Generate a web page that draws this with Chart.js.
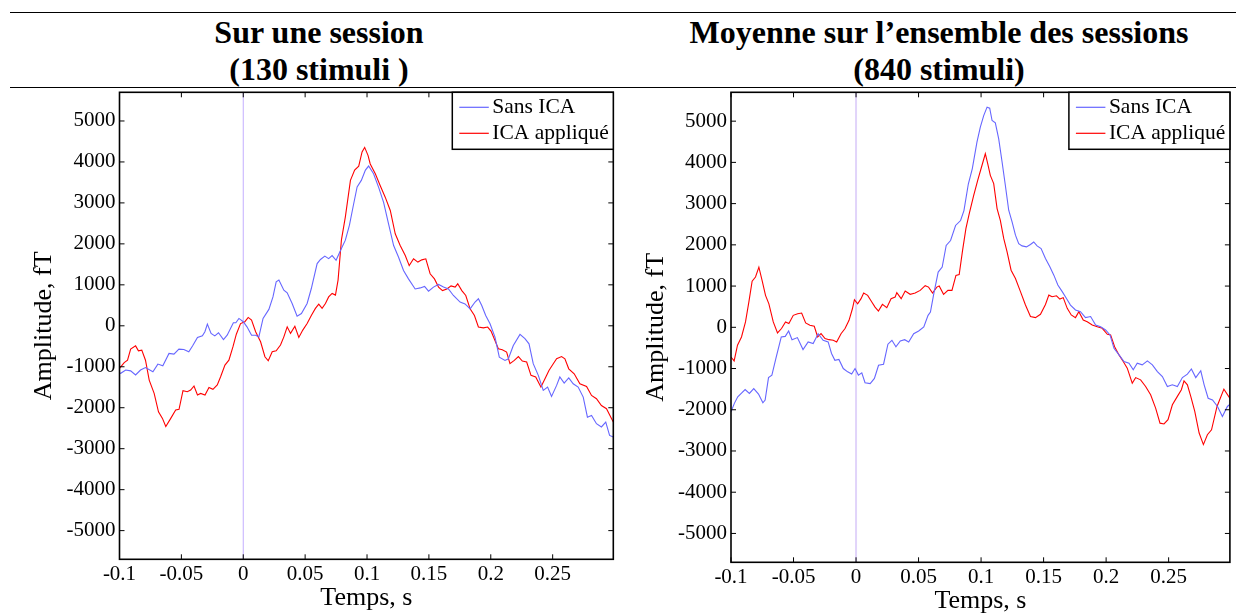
<!DOCTYPE html>
<html>
<head>
<meta charset="utf-8">
<script src="https://cdn.jsdelivr.net/npm/chart.js@4.4.0/dist/chart.umd.min.js"></script>
<style>
  body { margin: 0; background: #fff; }
  #page { position: relative; width: 1236px; height: 615px; overflow: hidden;
          font-family: "Liberation Serif", "Times New Roman", serif; }
  .rule { position: absolute; left: 10px; width: 1226px; height: 1.4px; background: #000; }
  .title { position: absolute; top: 14px; width: 618px; text-align: center;
           font-weight: bold; font-size: 32px; line-height: 37px; color: #000; }
  canvas { position: absolute; top: 0; }
</style>
</head>
<body>
<div id="page">
  <div class="rule" style="top:11.6px"></div>
  <div class="rule" style="top:86.6px"></div>
  <div class="title" style="left:10px">Sur une session<br>(130 stimuli )</div>
  <div class="title" style="left:630px">Moyenne sur l’ensemble des sessions<br>(840 stimuli)</div>
  <canvas id="left" width="618" height="615" style="left:0"></canvas>
  <canvas id="right" width="618" height="615" style="left:618px"></canvas>
</div>
<script>
// [time (s), amplitude (fT)]
const sessionSansICA = [
  [-0.1,-1150],[-0.099,-1160],[-0.095,-1080],[-0.091,-1100],[-0.087,-1200],[-0.083,-1080],[-0.079,-1020],
  [-0.073,-1120],[-0.069,-935],[-0.065,-975],[-0.060,-675],[-0.056,-690],[-0.052,-570],[-0.048,-580],
  [-0.044,-635],[-0.041,-495],[-0.037,-285],[-0.033,-245],[-0.031,-145],[-0.029,40],[-0.026,-185],
  [-0.023,-245],[-0.020,-170],[-0.016,-335],[-0.013,-230],[-0.008,75],[-0.006,75],[-0.0035,180],[0,100],
  [0.003,-25],[0.0067,-230],[0.010,-230],[0.0126,-270],[0.016,180],[0.0207,400],[0.024,705],[0.0266,1075],
  [0.0288,1115],[0.0328,870],[0.0355,805],[0.0395,545],[0.0435,235],[0.047,300],[0.0516,545],[0.055,910],
  [0.0597,1520],[0.0624,1620],[0.0659,1700],[0.069,1640],[0.0718,1715],[0.075,1600],[0.0793,1885],
  [0.0825,2090],[0.0858,2455],[0.0887,2900],[0.092,3390],[0.0954,3550],[0.0987,3800],[0.1013,3900],
  [0.1053,3710],[0.1094,3380],[0.1134,3015],[0.1174,2490],[0.1215,1960],[0.1255,1675],[0.1295,1350],
  [0.1335,1145],[0.1389,900],[0.143,925],[0.1465,960],[0.1497,845],[0.1537,945],[0.1578,1010],[0.1618,945],
  [0.1658,900],[0.1698,740],[0.1752,580],[0.1792,535],[0.1833,415],[0.1873,580],[0.19,660],[0.1927,495],
  [0.1959,250],[0.1994,50],[0.2034,-275],[0.2069,-765],[0.2115,-845],[0.2142,-805],[0.2182,-480],
  [0.2236,-210],[0.2276,-315],[0.2309,-440],[0.2343,-925],[0.2384,-1210],[0.2424,-1575],[0.2459,-1495],
  [0.2491,-1725],[0.2532,-1455],[0.2558,-1250],[0.2593,-1400],[0.263,-1270],[0.2666,-1415],[0.2706,-1495],
  [0.2747,-1740],[0.2781,-2230],[0.2814,-2190],[0.2854,-2390],[0.2894,-2470],[0.2929,-2350],[0.296,-2675],
  [0.299,-2715]
];
const sessionICA = [
  [-0.1,-1040],[-0.0962,-900],[-0.0935,-840],[-0.091,-570],[-0.087,-490],[-0.0847,-610],[-0.082,-595],
  [-0.079,-840],[-0.076,-1325],[-0.072,-1650],[-0.0685,-2100],[-0.0653,-2260],[-0.0626,-2460],[-0.0586,-2260],
  [-0.0546,-2055],[-0.0519,-2040],[-0.0487,-1585],[-0.0452,-1610],[-0.0425,-1570],[-0.0398,-1470],
  [-0.037,-1690],[-0.0344,-1650],[-0.0309,-1690],[-0.0277,-1505],[-0.0245,-1550],[-0.021,-1445],
  [-0.0183,-1245],[-0.0148,-960],[-0.0116,-840],[-0.0083,-510],[-0.0056,-205],[-0.0022,55],[0.0013,100],
  [0.004,205],[0.0067,140],[0.01,-145],[0.014,-390],[0.0175,-755],[0.0202,-855],[0.0234,-635],[0.0266,-610],
  [0.0301,-470],[0.0328,-270],[0.0355,-25],[0.0382,-185],[0.0417,-10],[0.0449,-285],[0.0481,-105],
  [0.0516,55],[0.0551,260],[0.0583,425],[0.061,530],[0.0637,425],[0.0664,545],[0.069,705],[0.0718,790],
  [0.0745,750],[0.0766,1115],[0.0793,2090],[0.0825,2660],[0.0866,3550],[0.09,3800],[0.0933,3895],
  [0.096,4245],[0.0981,4355],[0.1008,4160],[0.1026,3950],[0.1067,3710],[0.1107,3420],[0.1147,3140],
  [0.1188,2815],[0.1228,2245],[0.1268,1960],[0.1309,1715],[0.1341,1470],[0.1376,1635],[0.1411,1555],
  [0.1443,1610],[0.1475,1635],[0.151,1270],[0.1545,1145],[0.1578,945],[0.161,860],[0.1645,900],[0.1679,975],
  [0.1712,945],[0.1733,1025],[0.1766,860],[0.1798,740],[0.1833,415],[0.1868,250],[0.19,-30],[0.194,-50],
  [0.1975,-30],[0.2002,-130],[0.2034,-360],[0.2061,-560],[0.2093,-585],[0.2128,-640],[0.2155,-925],
  [0.219,-845],[0.2223,-750],[0.2255,-860],[0.229,-885],[0.2325,-1210],[0.2363,-1250],[0.2405,-1495],
  [0.2438,-1290],[0.247,-1090],[0.2505,-925],[0.2532,-805],[0.2572,-750],[0.2599,-805],[0.263,-1050],
  [0.2674,-1170],[0.272,-1415],[0.2774,-1480],[0.2814,-1700],[0.2854,-1780],[0.2894,-1945],[0.2935,-2025],
  [0.297,-2230],[0.299,-2350]
];
const averageSansICA = [
  [-0.1,-2050],[-0.0973,-1845],[-0.0946,-1685],[-0.0914,-1590],[-0.0887,-1510],[-0.0853,-1605],
  [-0.0818,-1485],[-0.078,-1620],[-0.0745,-1830],[-0.0727,-1765],[-0.07,-1220],[-0.0673,-1160],
  [-0.0638,-720],[-0.0598,-235],[-0.0566,-220],[-0.0539,-90],[-0.0512,-300],[-0.0469,-250],[-0.0424,-540],
  [-0.0383,-355],[-0.0343,-395],[-0.0303,-155],[-0.0263,-315],[-0.0223,-355],[-0.0196,-635],[-0.0169,-800],
  [-0.0137,-780],[-0.0102,-1000],[-0.0067,-1080],[-0.0035,-1135],[-0.0008,-1000],[0.0019,-1160],
  [0.0046,-1105],[0.0072,-1345],[0.0113,-1365],[0.0147,-1240],[0.018,-920],[0.022,-895],[0.0255,-410],
  [0.0287,-315],[0.0319,-475],[0.0354,-330],[0.0389,-300],[0.0421,-355],[0.0461,-155],[0.0501,-90],
  [0.0542,10],[0.0576,290],[0.0595,370],[0.0622,815],[0.0657,1340],[0.0689,1460],[0.0721,1985],
  [0.0756,2105],[0.0796,2470],[0.0836,2590],[0.0863,2830],[0.0898,3475],[0.093,3850],[0.0967,4490],
  [0.0994,4855],[0.1021,5135],[0.1048,5340],[0.1069,5315],[0.1088,5015],[0.1114,4960],[0.1141,4570],
  [0.1168,4010],[0.1194,3445],[0.1221,2840],[0.1248,2555],[0.1275,2235],[0.1301,2030],[0.1328,1975],
  [0.1363,1950],[0.1395,2010],[0.1421,2070],[0.1448,1975],[0.148,1910],[0.1515,1670],[0.155,1470],
  [0.1582,1265],[0.1614,1025],[0.1649,865],[0.1683,700],[0.1715,540],[0.1755,420],[0.1795,380],
  [0.1835,235],[0.1876,260],[0.1916,55],[0.1956,15],[0.1996,-65],[0.2031,-185],[0.2063,-510],[0.2103,-670],
  [0.2143,-830],[0.2183,-870],[0.2217,-1030],[0.2249,-870],[0.2289,-910],[0.233,-815],[0.237,-910],
  [0.241,-1075],[0.245,-1195],[0.249,-1435],[0.253,-1395],[0.257,-1435],[0.261,-1220],[0.265,-1135],
  [0.2682,-1010],[0.2717,-1220],[0.2757,-1055],[0.2784,-1395],[0.2816,-1720],[0.2851,-1760],[0.2891,-1920],
  [0.293,-2165],[0.297,-1920],[0.2995,-1855]
];
const averageICA = [
  [-0.1,-720],[-0.0975,-815],[-0.0948,-435],[-0.0916,-235],[-0.0884,130],[-0.0857,615],[-0.0831,1120],
  [-0.0804,1220],[-0.0777,1460],[-0.0751,1135],[-0.0724,775],[-0.0697,570],[-0.0662,130],[-0.0628,-135],
  [-0.0596,-30],[-0.0564,130],[-0.0537,90],[-0.0502,290],[-0.0467,330],[-0.0435,345],[-0.0403,105],
  [-0.0369,50],[-0.0334,25],[-0.0307,-235],[-0.028,-155],[-0.0248,-275],[-0.0216,-300],[-0.0182,-315],
  [-0.0155,-355],[-0.012,-155],[-0.0088,-30],[-0.0056,170],[-0.0029,450],[-0.0013,670],[0.0013,570],
  [0.004,695],[0.0061,830],[0.0093,775],[0.0126,615],[0.0152,490],[0.0179,395],[0.0211,555],[0.0246,475],
  [0.028,695],[0.0313,735],[0.0326,840],[0.0361,695],[0.0393,880],[0.0433,800],[0.0473,830],[0.0513,895],
  [0.0553,1010],[0.058,975],[0.0612,830],[0.0646,975],[0.0665,1000],[0.07,800],[0.0735,895],[0.0767,895],
  [0.0799,1260],[0.0825,1280],[0.0852,1865],[0.0879,2400],[0.0905,2750],[0.0941,3200],[0.0973,3565],
  [0.1007,3925],[0.1034,4210],[0.1053,3970],[0.1074,3685],[0.1101,3485],[0.1128,2880],[0.1154,2595],
  [0.1181,2155],[0.1208,1830],[0.124,1385],[0.1275,1185],[0.1315,865],[0.1355,540],[0.1395,260],
  [0.1435,235],[0.1475,315],[0.1515,555],[0.1542,780],[0.1568,740],[0.1603,765],[0.163,685],[0.1657,720],
  [0.1689,460],[0.1721,300],[0.1755,235],[0.1782,380],[0.1817,175],[0.1849,135],[0.1889,55],[0.1929,15],
  [0.1969,-25],[0.201,-170],[0.2036,-185],[0.2068,-470],[0.2103,-670],[0.2137,-830],[0.2169,-990],
  [0.2209,-1355],[0.2236,-1220],[0.2276,-1275],[0.2316,-1435],[0.2356,-1635],[0.2396,-1960],[0.2431,-2325],
  [0.2463,-2345],[0.2495,-2240],[0.253,-1880],[0.257,-1675],[0.2602,-1515],[0.2623,-1300],[0.265,-1395],
  [0.2677,-1675],[0.2709,-2040],[0.2744,-2565],[0.2778,-2845],[0.281,-2605],[0.2843,-2485],[0.2887,-1920],
  [0.2942,-1500],[0.2995,-1745]
];

const seriesNames = ['Sans ICA', 'ICA appliqué'];
const xTickValues = [-0.1, -0.05, 0, 0.05, 0.1, 0.15, 0.2, 0.25];
const xTickLabels = ['-0.1', '-0.05', '0', '0.05', '0.1', '0.15', '0.2', '0.25'];
const yTickValues = [-5000, -4000, -3000, -2000, -1000, 0, 1000, 2000, 3000, 4000, 5000];
const yTickLabels = ['-5000', '-4000', '-3000', '-2000', '-1000', '0', '1000', '2000', '3000', '4000', '5000'];
const xRange = [-0.1, 0.299];
const yRange = [-5700, 5700];
const stimulusOnset = 0;

const SERIF = '"Liberation Serif", "Times New Roman", serif';
const toPoints = pairs => pairs.map(([t, v]) => ({ x: t, y: v }));

// MATLAB-like box: frame, inward ticks on all four sides, legend in the top-right corner
const boxPlugin = {
  id: 'box',
  afterDatasetsDraw(chart) {
    const { ctx, chartArea: a, scales: { x, y } } = chart;
    const tl = 5;
    ctx.save();
    ctx.strokeStyle = '#000';
    ctx.lineWidth = 1;
    ctx.beginPath();
    x.ticks.forEach(t => {
      const px = x.getPixelForValue(t.value);
      ctx.moveTo(px, a.bottom); ctx.lineTo(px, a.bottom - tl);
      ctx.moveTo(px, a.top); ctx.lineTo(px, a.top + tl);
    });
    y.ticks.forEach(t => {
      const py = y.getPixelForValue(t.value);
      ctx.moveTo(a.left, py); ctx.lineTo(a.left + tl, py);
      ctx.moveTo(a.right, py); ctx.lineTo(a.right - tl, py);
    });
    ctx.stroke();
    ctx.lineWidth = 1.6;
    ctx.strokeRect(a.left, a.top, a.right - a.left, a.bottom - a.top);

    // legend
    const w = 161, h = 57;
    const bx = a.right - w, by = a.top;
    ctx.fillStyle = '#fff';
    ctx.fillRect(bx, by, w, h);
    ctx.lineWidth = 1.5;
    ctx.strokeRect(bx, by, w, h);
    ctx.font = '21.5px ' + SERIF;
    ctx.textBaseline = 'middle';
    ctx.textAlign = 'left';
    chart.data.datasets.slice(0, 2).forEach((ds, i) => {
      const ly = by + 15 + i * 26;
      ctx.strokeStyle = ds.borderColor;
      ctx.lineWidth = 1.2;
      ctx.beginPath();
      ctx.moveTo(bx + 7, ly); ctx.lineTo(bx + 36.5, ly);
      ctx.stroke();
      ctx.fillStyle = '#000';
      ctx.fillText(ds.label, bx + 40, ly);
    });
    ctx.restore();
  }
};

function makeChart(id, sans, ica, g) {
  return new Chart(document.getElementById(id), {
    type: 'line',
    data: {
      datasets: [
        { label: seriesNames[0], data: toPoints(sans), borderColor: '#6666ff', borderWidth: 1.1 },
        { label: seriesNames[1], data: toPoints(ica), borderColor: '#ff0000', borderWidth: 1.1 },
        { label: 'onset', data: [{ x: stimulusOnset, y: yRange[0] }, { x: stimulusOnset, y: yRange[1] }],
          borderColor: g.onsetColor, borderWidth: g.onsetWidth }
      ]
    },
    options: {
      responsive: false,
      animation: false,
      events: [],
      devicePixelRatio: 1,
      layout: { padding: { left: 0, top: 92.3, right: g.padRight, bottom: 0 } },
      elements: { point: { radius: 0 }, line: { tension: 0 } },
      plugins: { legend: { display: false }, tooltip: { enabled: false } },
      scales: {
        x: {
          type: 'linear', min: xRange[0], max: xRange[1],
          grid: { display: false, drawTicks: false, tickLength: 0 },
          border: { display: false },
          afterBuildTicks: s => { s.ticks = xTickValues.map(v => ({ value: v })); },
          afterFit: s => { s.height = g.xHeight; },
          ticks: { autoSkip: false, maxRotation: 0, padding: 2.5, color: '#000',
                   font: { family: SERIF, size: 21 }, callback: (v, i) => xTickLabels[i] },
          title: { display: true, text: 'Temps, s', color: '#000',
                   font: { family: SERIF, size: 26, lineHeight: 1 }, padding: { top: 0, bottom: g.xTitlePad } }
        },
        y: {
          type: 'linear', min: yRange[0], max: yRange[1],
          grid: { display: false, drawTicks: false, tickLength: 0 },
          border: { display: false },
          afterBuildTicks: s => { s.ticks = yTickValues.map(v => ({ value: v })); },
          afterFit: s => { s.width = g.yWidth; },
          ticks: { autoSkip: false, padding: 4, color: '#000',
                   font: { family: SERIF, size: 21 }, callback: (v, i) => yTickLabels[i] },
          title: { display: true, text: 'Amplitude, fT', color: '#000',
                   font: { family: SERIF, size: 26, lineHeight: 1 }, padding: { top: g.yTitlePad, bottom: 0 } }
        }
      }
    },
    plugins: [boxPlugin]
  });
}

makeChart('left', sessionSansICA, sessionICA,
  { padRight: 4.7, yWidth: 119.5, xHeight: 55.7, xTitlePad: 4.1, yTitlePad: 31.2,
    onsetColor: 'rgb(195,175,255)', onsetWidth: 1 });
makeChart('right', averageSansICA, averageICA,
  { padRight: 6.1, yWidth: 113, xHeight: 52.7, xTitlePad: 1.1, yTitlePad: 25.2,
    onsetColor: 'rgb(225,212,250)', onsetWidth: 2 });
</script>
</body>
</html>
